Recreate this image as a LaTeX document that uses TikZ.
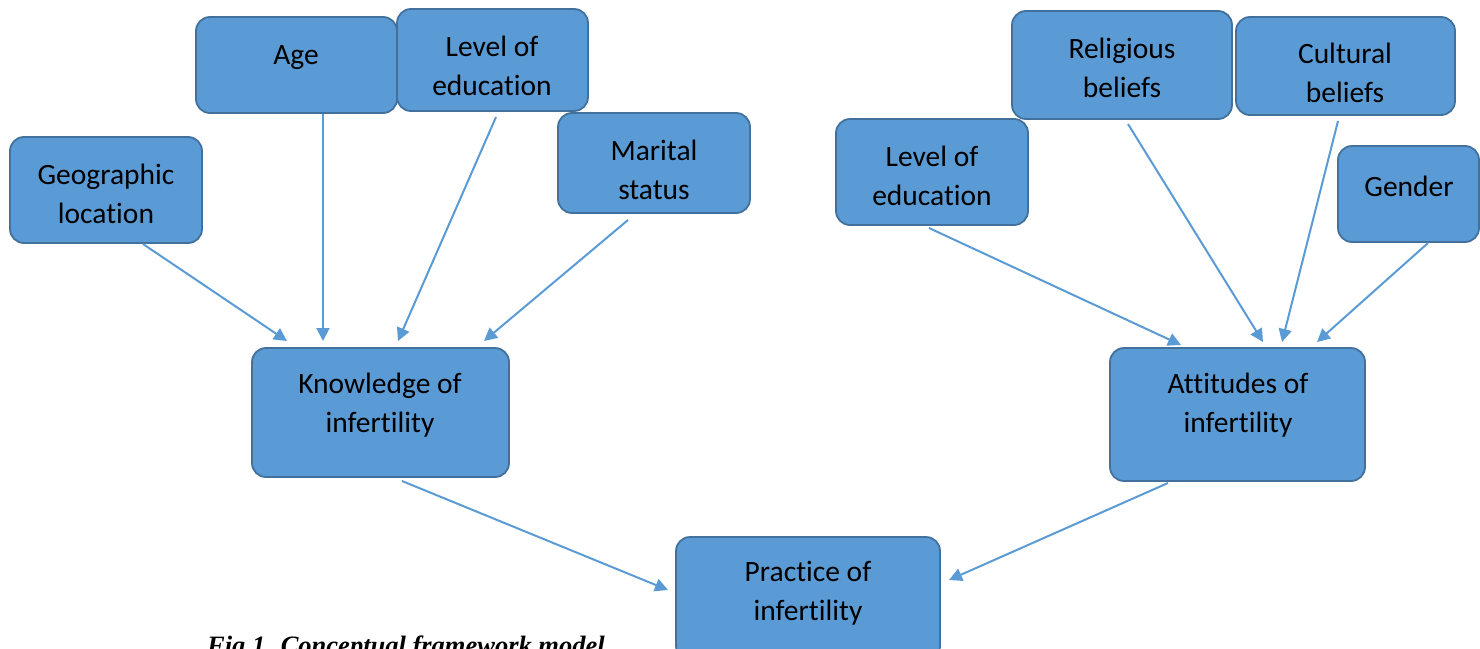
\documentclass[tikz,border=0pt]{standalone}
\usepackage{fontspec}
\setmainfont[Ligatures=NoCommon]{Carlito}
\newfontfamily\capfont{Liberation Serif}
\usetikzlibrary{arrows.meta}
\definecolor{boxfill}{HTML}{5B9BD5}
\definecolor{boxedge}{HTML}{41719C}
\definecolor{arrowc}{HTML}{5B9BD5}
\tikzset{
  box/.style={draw=boxedge, fill=boxfill, line width=1.8pt, rounded corners=14pt},
  txt/.style={font=\fontsize{29.5}{39}\selectfont, align=center, text=black, inner sep=0pt, yshift=-2pt},
  arr/.style={draw=arrowc, line width=2pt, -{Triangle[length=13pt,width=13pt]}},
}
\begin{document}
\begin{tikzpicture}[x=1pt,y=-1pt]
\useasboundingbox (0,0) rectangle (1480,648);
% boxes
\draw[box] (10,137) rectangle (202,243) node[midway] (geo) {};
\draw[box] (196,17) rectangle (397,113) node[midway] (age) {};
\draw[box] (397,9) rectangle (588,111) node[midway] (loel) {};
\draw[box] (558,113) rectangle (750,213) node[midway] (mar) {};
\draw[box] (252,348) rectangle (509,477) node[midway] (know) {};
\draw[box] (836,119) rectangle (1028,225) node[midway] (loer) {};
\draw[box] (1012,11) rectangle (1232,119) node[midway] (rel) {};
\draw[box] (1236,17) rectangle (1455,115) node[midway] (cul) {};
\draw[box] (1338,146) rectangle (1479,242) node[midway] (gen) {};
\draw[box] (1110,348) rectangle (1365,481) node[midway] (att) {};
\draw[box] (676,537) rectangle (940,660) node[midway] (prac) {};
% texts
\node[txt] (geo-t) at (106,191.5) {Geographic\\location};
\node[txt] (age-t) at (296,56) {Age};
\node[txt] (loel-t) at (492,63.5) {Level of\\education};
\node[txt] (mar-t) at (654,167.5) {Marital\\status};
\node[txt] (know-t) at (380,403.5) {Knowledge of\\infertility};
\node[txt] (loer-t) at (932,173.5) {Level of\\education};
\node[txt] (rel-t) at (1122,65.5) {Religious\\beliefs};
\node[txt] (cul-t) at (1345,71) {Cultural\\beliefs};
\node[txt] (gen-t) at (1409,184) {Gender};
\node[txt] (att-t) at (1238,403.5) {Attitudes of\\infertility};
\node[txt] (prac-t) at (808,591) {Practice of\\infertility};
% caption
\node[anchor=base west, inner sep=0pt, font=\capfont\bfseries\itshape\fontsize{26.5}{30}\selectfont] (cap) at (207,654) {Fig 1. Conceptual framework model};
% arrow end points
\coordinate (a1s) at (143,244); \coordinate (a1e) at (287,341);
\coordinate (a2s) at (323,114); \coordinate (a2e) at (323,341);
\coordinate (a3s) at (496,117); \coordinate (a3e) at (398,341);
\coordinate (a4s) at (628,220); \coordinate (a4e) at (484,341);
\coordinate (a5s) at (402,481); \coordinate (a5e) at (668,590);
\coordinate (a6s) at (1168,483); \coordinate (a6e) at (949,580);
\coordinate (a7s) at (929,228); \coordinate (a7e) at (1181,345);
\coordinate (a8s) at (1128,124); \coordinate (a8e) at (1263,342);
\coordinate (a9s) at (1338,121); \coordinate (a9e) at (1282,342);
\coordinate (a10s) at (1428,243); \coordinate (a10e) at (1317,342);
\foreach \i in {1,...,10} \draw[arr] (a\i s) -- (a\i e);
\end{tikzpicture}
\end{document}
